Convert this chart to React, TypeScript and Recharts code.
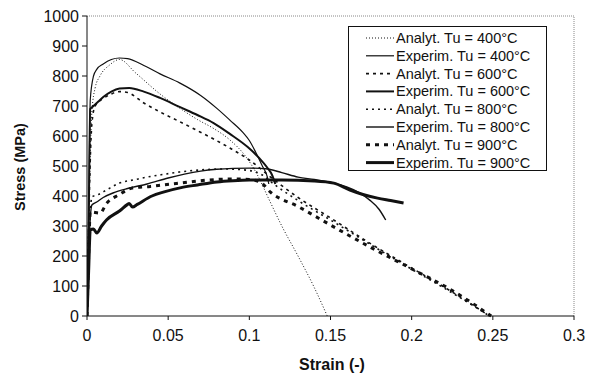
import React from 'react';
import {
  LineChart,
  Line,
  XAxis,
  YAxis,
  ReferenceLine,
  Label,
} from 'recharts';

// strain (-) / stress (MPa) pairs
const ana400 = [
  [0, 0], [0.001, 300], [0.003, 680], [0.005, 760], [0.008, 800], [0.014, 837],
  [0.02, 855], [0.03, 810], [0.045, 740], [0.057, 693], [0.068, 655], [0.078, 625],
  [0.088, 587], [0.098, 530], [0.105, 470], [0.112, 390], [0.12, 300], [0.13, 200],
  [0.14, 95], [0.148, 0],
];
const exp400 = [
  [0, 0], [0.001, 300], [0.002, 720], [0.004, 800], [0.006, 822], [0.01, 840],
  [0.015, 855], [0.02, 860], [0.025, 858], [0.035, 835], [0.045, 807], [0.057, 777],
  [0.07, 735], [0.08, 692], [0.088, 653], [0.096, 612], [0.1, 585], [0.104, 545],
  [0.108, 500], [0.111, 465], [0.112, 440],
];
const ana600 = [
  [0, 0], [0.001, 300], [0.003, 640], [0.005, 700], [0.01, 725], [0.015, 740],
  [0.02, 748], [0.025, 745], [0.035, 710], [0.045, 680], [0.057, 648], [0.068, 618],
  [0.078, 590], [0.088, 560], [0.1, 520], [0.115, 455], [0.13, 395], [0.15, 327],
  [0.175, 240], [0.2, 160], [0.225, 80], [0.248, 0],
];
const exp600 = [
  [0, 0], [0.001, 300], [0.002, 690], [0.004, 700], [0.007, 715], [0.01, 730],
  [0.015, 748], [0.02, 758], [0.026, 760], [0.035, 748], [0.045, 727], [0.057, 697],
  [0.068, 670], [0.078, 643], [0.088, 607], [0.099, 563], [0.106, 527], [0.111, 495],
  [0.114, 470], [0.116, 440],
];
const ana800 = [
  [0, 0], [0.001, 200], [0.003, 397], [0.007, 405], [0.012, 420], [0.02, 443],
  [0.03, 455], [0.037, 463], [0.047, 472], [0.057, 480], [0.07, 487], [0.085, 490],
  [0.1, 485], [0.108, 470], [0.115, 440], [0.13, 385], [0.15, 320], [0.175, 237],
  [0.2, 156], [0.225, 77], [0.248, 0],
];
const exp800 = [
  [0, 0], [0.001, 200], [0.003, 370], [0.006, 380], [0.01, 395], [0.016, 410],
  [0.025, 425], [0.037, 440], [0.05, 460], [0.06, 473], [0.07, 483], [0.08, 489],
  [0.09, 492], [0.1, 493], [0.11, 491], [0.12, 478], [0.13, 463], [0.14, 455],
  [0.152, 443], [0.16, 430], [0.167, 413], [0.174, 387], [0.18, 355], [0.184, 320],
];
const ana900 = [
  [0, 0], [0.001, 200], [0.002, 347], [0.008, 343], [0.012, 375], [0.02, 405],
  [0.028, 427], [0.039, 432], [0.047, 437], [0.057, 443], [0.074, 453], [0.09, 457],
  [0.1, 455], [0.107, 445], [0.113, 413], [0.13, 365], [0.152, 297], [0.175, 228],
  [0.199, 160], [0.225, 85], [0.249, 0],
];
const exp900 = [
  [0, 0], [0.001, 150], [0.002, 287], [0.004, 290], [0.006, 277], [0.009, 300],
  [0.012, 320], [0.02, 350], [0.025, 372], [0.026, 375], [0.028, 363], [0.031, 372],
  [0.04, 400], [0.047, 413], [0.058, 428], [0.068, 437], [0.08, 447], [0.09, 451],
  [0.1, 453], [0.12, 453], [0.14, 450], [0.152, 443], [0.162, 420], [0.17, 405],
  [0.179, 393], [0.187, 385], [0.195, 377],
];

const xTicks = [0, 0.05, 0.1, 0.15, 0.2, 0.25, 0.3];
const yTicks = [0, 100, 200, 300, 400, 500, 600, 700, 800, 900, 1000];

const toRows = (pts: number[][]) => pts.map(([x, y]) => ({ x, y }));

const INK = '#111';

const series = [
  { name: 'Analyt. Tu = 400°C', pts: ana400, width: 1, dash: '1 2' },
  { name: 'Experim. Tu = 400°C', pts: exp400, width: 1.2, dash: undefined },
  { name: 'Analyt. Tu = 600°C', pts: ana600, width: 1.6, dash: '3 4' },
  { name: 'Experim. Tu = 600°C', pts: exp600, width: 2, dash: undefined },
  { name: 'Analyt. Tu = 800°C', pts: ana800, width: 1.6, dash: '2 4' },
  { name: 'Experim. Tu = 800°C', pts: exp800, width: 1.4, dash: undefined },
  { name: 'Analyt. Tu = 900°C', pts: ana900, width: 3, dash: '4 5' },
  { name: 'Experim. Tu = 900°C', pts: exp900, width: 3, dash: undefined },
];

const font = 'Liberation Sans, Arial, sans-serif';

function LegendBox() {
  return (
    <div
      style={{
        position: 'absolute',
        left: 348,
        top: 26,
        width: 199,
        height: 145,
        border: '1px solid #111',
        background: '#fff',
        boxSizing: 'border-box',
      }}
    >
      <svg width={197} height={143}>
        {series.map((s, i) => {
          const y = 11 + i * 17.8;
          return (
            <g key={s.name}>
              <line
                x1={17}
                x2={45}
                y1={y}
                y2={y}
                stroke={INK}
                strokeWidth={s.width}
                strokeDasharray={s.dash}
              />
              <text
                x={47}
                y={y + 5}
                fontSize={14.5}
                fontFamily={font}
                fill={INK}
              >
                {s.name}
              </text>
            </g>
          );
        })}
      </svg>
    </div>
  );
}

export default function App() {
  return (
    <div style={{ position: 'absolute', left: 0, top: 0, width: 593, height: 381, background: '#fff' }}>
      <LineChart
        width={593}
        height={381}
        margin={{ top: 16, right: 19, bottom: 35, left: 0 }}
      >
        <XAxis
          type="number"
          dataKey="x"
          domain={[0, 0.3]}
          ticks={xTicks}
          tickFormatter={(v: number) => String(v)}
          allowDataOverflow
          height={30}
          stroke={INK}
          tickSize={4}
          tickMargin={10}
          tick={{ fill: INK, fontSize: 16, fontFamily: font }}
        >
          <Label
            content={() => (
              <text
                x={332}
                y={370}
                textAnchor="middle"
                fontSize={16}
                fontWeight="bold"
                fontFamily={font}
                fill={INK}
              >
                Strain (-)
              </text>
            )}
          />
        </XAxis>
        <YAxis
          type="number"
          domain={[0, 1000]}
          ticks={yTicks}
          width={87}
          stroke={INK}
          tickSize={5}
          tickMargin={3}
          tick={{ fill: INK, fontSize: 16, fontFamily: font }}
        >
          <Label
            content={() => (
              <text
                x={25}
                y={167}
                transform="rotate(-90 25 167)"
                textAnchor="middle"
                fontSize={14.5}
                fontWeight="bold"
                fontFamily={font}
                fill={INK}
              >
                Stress (MPa)
              </text>
            )}
          />
        </YAxis>
        <ReferenceLine y={1000} stroke="#888" strokeDasharray="1 1" />
        <ReferenceLine x={0.3} stroke="#888" strokeDasharray="1 1" />
        {series.map((s) => (
          <Line
            key={s.name}
            data={toRows(s.pts)}
            dataKey="y"
            name={s.name}
            type="monotone"
            stroke={INK}
            strokeWidth={s.width}
            strokeDasharray={s.dash}
            dot={false}
            activeDot={false}
            isAnimationActive={false}
          />
        ))}
      </LineChart>
      <LegendBox />
    </div>
  );
}
